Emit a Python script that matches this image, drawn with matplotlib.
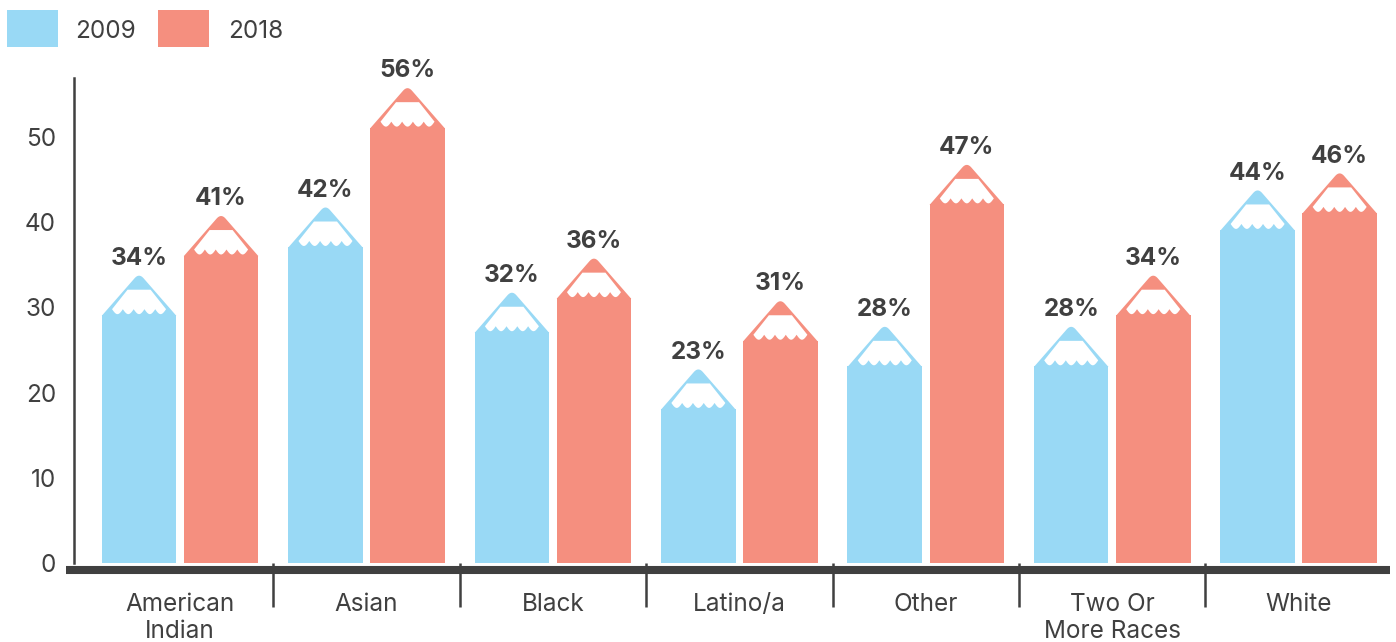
import numpy as np
import matplotlib
matplotlib.use("Agg")
import matplotlib.pyplot as plt
from matplotlib.patches import Rectangle, Polygon
from matplotlib.lines import Line2D
import matplotlib.transforms as mtransforms

plt.rcParams['font.family'] = ['Inter', 'DejaVu Sans']

# ---- data ----
categories = ["American\nIndian", "Asian", "Black", "Latino/a", "Other",
              "Two Or\nMore Races", "White"]
values_2009 = [34, 42, 32, 23, 28, 28, 44]
values_2018 = [41, 56, 36, 31, 47, 34, 46]
series_names = ["2009", "2018"]
y_ticks = [0, 10, 20, 30, 40, 50]

BLUE = "#99D9F5"
SALMON = "#F58F7F"
DARK = "#404040"

W, H = 1396, 642
fig = plt.figure(figsize=(W / 100, H / 100), dpi=100)
ax = fig.add_axes([74 / W, 79 / H, 1316 / W, 485 / H])
ax.set_xlim(-0.569, 6.49)
ax.set_ylim(0, 56.9)

BAR_W = 0.40
OFFSET = 0.22

# pixels per data unit
ppx = ax.transData.transform((1, 0))[0] - ax.transData.transform((0, 0))[0]
ppy = ax.transData.transform((0, 1))[1] - ax.transData.transform((0, 0))[1]

TIP_PX = 42.0


def pencil(xc, val, color):
    """Draw a pencil-shaped bar whose tip reaches val."""
    hw_px = BAR_W / 2 * ppx

    def to_data(u, d):
        return (xc + u / ppx, val - d / ppy)

    body_top = val - TIP_PX / ppy
    ax.add_patch(Rectangle((xc - BAR_W / 2, 0), BAR_W, body_top,
                           facecolor=color, edgecolor="none", zorder=2))

    # sharpened cone with a slightly rounded point
    rr = 5.0
    pts = [(-hw_px, TIP_PX + 0.6), (-hw_px * rr / TIP_PX, rr)]
    p0 = np.array([-hw_px * rr / TIP_PX, rr])
    p1 = np.array([0.0, 0.0])
    p2 = np.array([hw_px * rr / TIP_PX, rr])
    for t in np.linspace(0, 1, 12)[1:-1]:
        q = (1 - t) ** 2 * p0 + 2 * (1 - t) * t * p1 + t ** 2 * p2
        pts.append(tuple(q))
    pts += [(hw_px * rr / TIP_PX, rr), (hw_px, TIP_PX + 0.6)]
    ax.add_patch(Polygon([to_data(u, d) for u, d in pts], closed=True,
                         facecolor=color, edgecolor="none", zorder=2))

    # bare wood band with a scalloped lower edge
    top_d, top_hw = 16.5, 11.5
    cusp_d, low_d, low_hw = 36.0, 41.0, 27.0
    wood = [(-top_hw, top_d), (top_hw, top_d), (low_hw, cusp_d)]
    n_lobes = 5
    lobe_w = 2 * low_hw / n_lobes
    for k in range(n_lobes):
        u_start = low_hw - k * lobe_w
        for t in np.linspace(0, 1, 10)[1:]:
            wood.append((u_start - t * lobe_w,
                         cusp_d + (low_d - cusp_d) * np.sin(np.pi * t)))
    ax.add_patch(Polygon([to_data(u, d) for u, d in wood], closed=True,
                         facecolor="white", edgecolor="none", zorder=3))

    ax.annotate(f"{val}%", xy=(xc, val), xytext=(0, 6),
                textcoords="offset points", ha="center", va="baseline",
                fontsize=17.5, fontweight="bold", color=DARK,
                annotation_clip=False, zorder=4)


x = np.arange(len(categories))
for xi, v09, v18 in zip(x, values_2009, values_2018):
    pencil(xi - OFFSET, v09, BLUE)
    pencil(xi + OFFSET, v18, SALMON)

# axes styling
for side in ("top", "right", "bottom"):
    ax.spines[side].set_visible(False)
ax.spines["left"].set_color(DARK)
ax.spines["left"].set_linewidth(1.8)

ax.set_yticks(y_ticks)
ax.tick_params(axis="y", length=0, pad=13, labelsize=17.5, labelcolor=DARK)

ax.set_xticks(x)
ax.set_xticklabels(categories, linespacing=1.25)
ax.set_xticks(x[:-1] + 0.5, minor=True)
ax.tick_params(axis="x", which="major", length=0, pad=21.5, labelsize=17.5,
               labelcolor=DARK)
ax.tick_params(axis="x", which="minor", length=31.5, width=1.8, color=DARK,
               direction="out")

# heavy baseline
base_trans = mtransforms.offset_copy(ax.transAxes, fig=fig, y=-7, units="dots")
ax.add_line(Line2D([-0.006, 1.0], [0, 0], transform=base_trans, color=DARK,
                   linewidth=5.8, solid_capstyle="butt", clip_on=False,
                   zorder=5))

# legend
for (x0, tx), name, col in zip([(7, 75), (158, 228)], series_names,
                               [BLUE, SALMON]):
    fig.patches.append(Rectangle((x0 / W, 1 - 47 / H), 51 / W, 37 / H,
                                 transform=fig.transFigure, facecolor=col,
                                 edgecolor="none"))
    fig.text(tx / W, 1 - 38 / H, name, ha="left", va="baseline",
             fontsize=17.5, color=DARK)

fig.savefig("out.png", dpi=100)
